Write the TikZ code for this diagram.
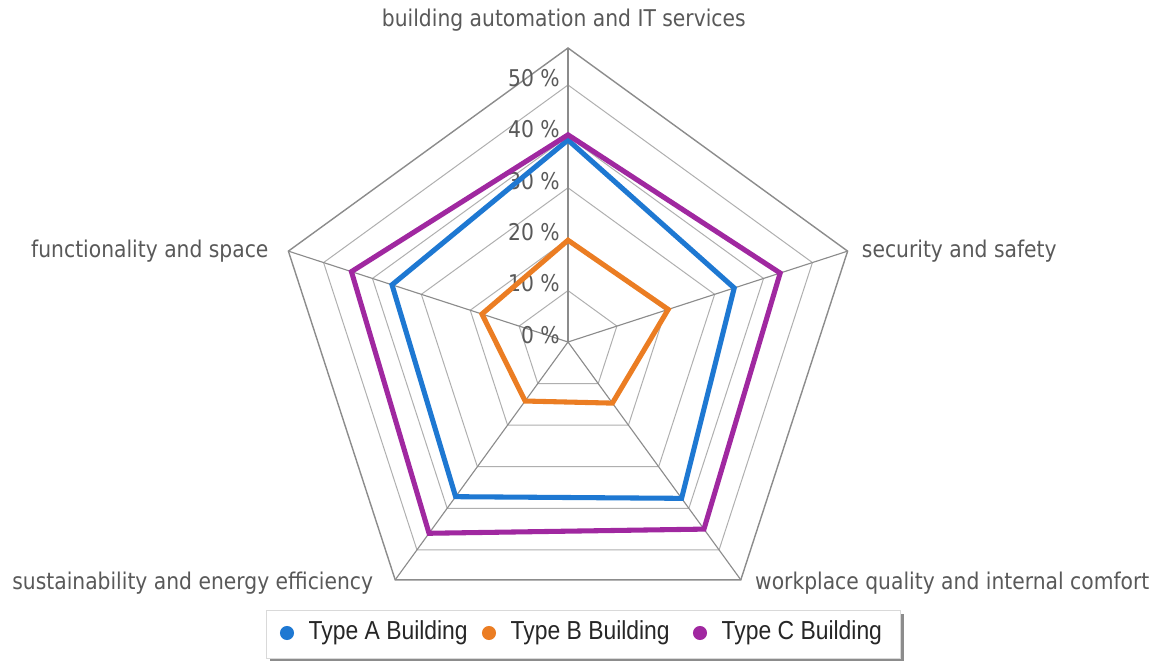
\documentclass[tikz,border=0pt]{standalone}
\usepackage{fontspec}
\setmainfont{DejaVu Sans}[FakeStretch=0.88]
\newfontfamily\legendfont{Liberation Sans}[FakeStretch=0.88]
\usetikzlibrary{calc}
\usetikzlibrary{positioning}
\providecommand*{\pgfmathsetnewmacro}[2]{%
    \newcommand*{#1}{}% Error if already defined
    \pgfmathsetmacro{#1}{#2}%
}
\definecolor{typeA}{RGB}{30,120,210}
\definecolor{typeB}{RGB}{235,125,35}
\definecolor{typeC}{RGB}{160,40,160}
\definecolor{ringgray}{RGB}{175,175,175}
\definecolor{outergray}{RGB}{140,140,140}
\definecolor{labelgray}{RGB}{89,89,89}

\tikzset{
    ringline/.style = {draw = ringgray, line width = 0.7pt},
    outerline/.style = {draw = outergray, line width = 1pt},
    axisline/.style = {draw = outergray, line width = 0.8pt},
    series/.style = {line width = 3.6pt, line join = miter},
    catlabel/.style = {font = \fontsize{16.4}{19}\selectfont, text = labelgray, inner sep = 0pt},
    ticklabel/.style = {font = \fontsize{16.4}{19}\selectfont, text = labelgray, inner sep = 0pt, anchor = east},
    legdot/.style = {circle, inner sep = 0pt, minimum size = 10},
    legtext/.style = {font = \legendfont\fontsize{18.5}{22}\selectfont, text = black!85, inner sep = 0pt},
}

\begin{document}
\begin{tikzpicture}[x = 0.025cm, y = 0.025cm]
    \pgfmathsetnewmacro{\unit}{51.4}  % 10 %
    \pgfmathsetnewmacro{\rmax}{294}
    \useasboundingbox[fill = white] (0,0) rectangle (1164,661);

    \coordinate (O) at (568,319);
    \foreach \i/\ang in {1/90, 2/18, 3/-54, 4/-126, 5/162}{
        \coordinate (V\i) at ($(O)+(\ang:\rmax)$);
    }

    % grid
    \begin{scope}[shift = {(O)}]
        \foreach \k in {1,...,5}{
            \pgfmathsetmacro{\r}{\k*\unit}
            \draw[ringline] (90:\r) -- (18:\r) -- (-54:\r) -- (-126:\r) -- (162:\r) -- cycle;
        }
    \end{scope}
    \draw[outerline] (V1) -- (V2) -- (V3) -- (V4) -- (V5) -- cycle;
    \foreach \i in {1,...,5}{
        \draw[axisline] (O) -- (V\i);
    }

    % percent ticks
    \foreach \k in {0,...,5}{
        \pgfmathtruncatemacro{\pct}{10*\k}
        \node (T\k) [ticklabel] at ($(O)+(-8,\k*\unit+7)$) {\pct~\%};
    }

    % data
    \begin{scope}[shift = {(O)}]
        \foreach \t/\a/\b/\c/\d/\e in {A/39.3/34/37.6/37.2/36,
                                        C/40.3/43.4/45/46/44.3,
                                        B/19.8/20.5/14.7/14.2/17.6}{
            \draw[series, type\t] (90:{\a*\unit/10}) -- (18:{\b*\unit/10})
                -- (-54:{\c*\unit/10}) -- (-126:{\d*\unit/10})
                -- (162:{\e*\unit/10}) -- cycle;
        }
    \end{scope}

    % categories
    \node (C1) [catlabel, above = 11.5pt of V1, xshift = -3pt] {building automation and IT services};
    \node (C2) [catlabel, right = 10pt of V2] {security and safety};
    \node (C3) [catlabel, right = 10pt of V3, yshift = -2pt] {workplace quality and internal comfort};
    \node (C4) [catlabel, left = 15.5pt of V4, yshift = -2pt] {sustainability and energy efficiency};
    \node (C5) [catlabel, left = 14pt of V5] {functionality and space};

    % legend
    \fill[black!45] (270,0) rectangle (904,47);
    \draw[black!15, fill = white] (266,3) rectangle (900,51);
    \foreach \t/\x in {A/287, B/489, C/700}{
        \node (L\t) [legdot, fill = type\t] at (\x,28) {};
        \node (N\t) [legtext, right = 10pt of L\t] {Type \t\ Building};
    }
\end{tikzpicture}
\end{document}
